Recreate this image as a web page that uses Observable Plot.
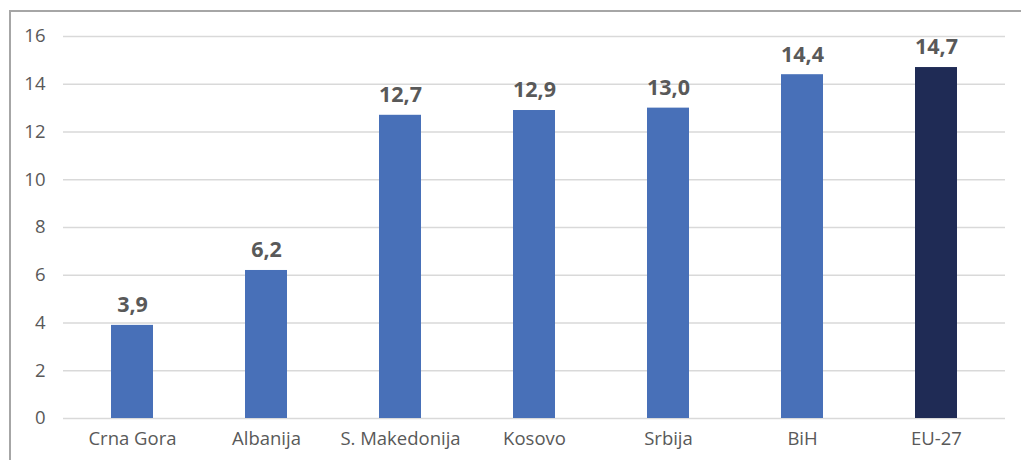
<!DOCTYPE html>
<html><head><meta charset="utf-8">
<script src="https://cdn.jsdelivr.net/npm/d3@7"></script>
<script src="https://cdn.jsdelivr.net/npm/@observablehq/plot@0.6"></script>
<style>
html,body{margin:0;padding:0;background:#fff;overflow:hidden}
#wrap{position:relative;width:1021px;height:460px}
#frame{position:absolute;left:9px;top:10px;width:1100px;height:600px;border-left:2px solid #a6a6a6;border-top:2px solid #a6a6a6;box-sizing:border-box}
#chart{position:absolute;left:0;top:0}
</style></head>
<body><div id="wrap"><div id="frame"></div><div id="chart"></div></div>
<script>
const categories = ["Crna Gora","Albanija","S. Makedonija","Kosovo","Srbija","BiH","EU-27"];
const values = [3.9, 6.2, 12.7, 12.9, 13.0, 14.4, 14.7];
const highlight = ["no","no","no","no","no","no","yes"];
const yTicks = [0,2,4,6,8,10,12,14,16];

const data = categories.map((c,i)=>({cat:c, v:values[i], h:highlight[i]}));
const fmt = v => v.toFixed(1).replace(".", ",");

const chart = Plot.plot({
  width: 1021, height: 460,
  marginLeft: 63, marginRight: 16, marginTop: 36, marginBottom: 42,
  style: {fontFamily: "'Open Sans', 'Noto Sans', sans-serif", color: "#595959", background: "transparent"},
  x: {domain: categories, paddingInner: 0.69, paddingOuter: 0.345, label: null},
  y: {domain: [0,16], label: null},
  color: {domain: ["no","yes"], range: ["#4870B8","#1F2B55"]},
  marks: [
    Plot.ruleY(yTicks, {stroke: "#d9d9d9", strokeWidth: 1.5}),
    Plot.barY(data, {x: "cat", y: "v", fill: "h"}),
    Plot.axisX({tickSize: 0, tickPadding: 13, fontSize: 18.5, fill: "#595959"}),
    Plot.axisY({ticks: yTicks, tickSize: 0, tickPadding: 18, fontSize: 18.5, fill: "#595959"}),
    Plot.text(data, {x: "cat", y: "v", text: d => fmt(d.v), dy: -20, fontSize: 21.5, fontWeight: "bold", fill: "#595959"})
  ]
});
document.getElementById("chart").appendChild(chart);
</script></body></html>
